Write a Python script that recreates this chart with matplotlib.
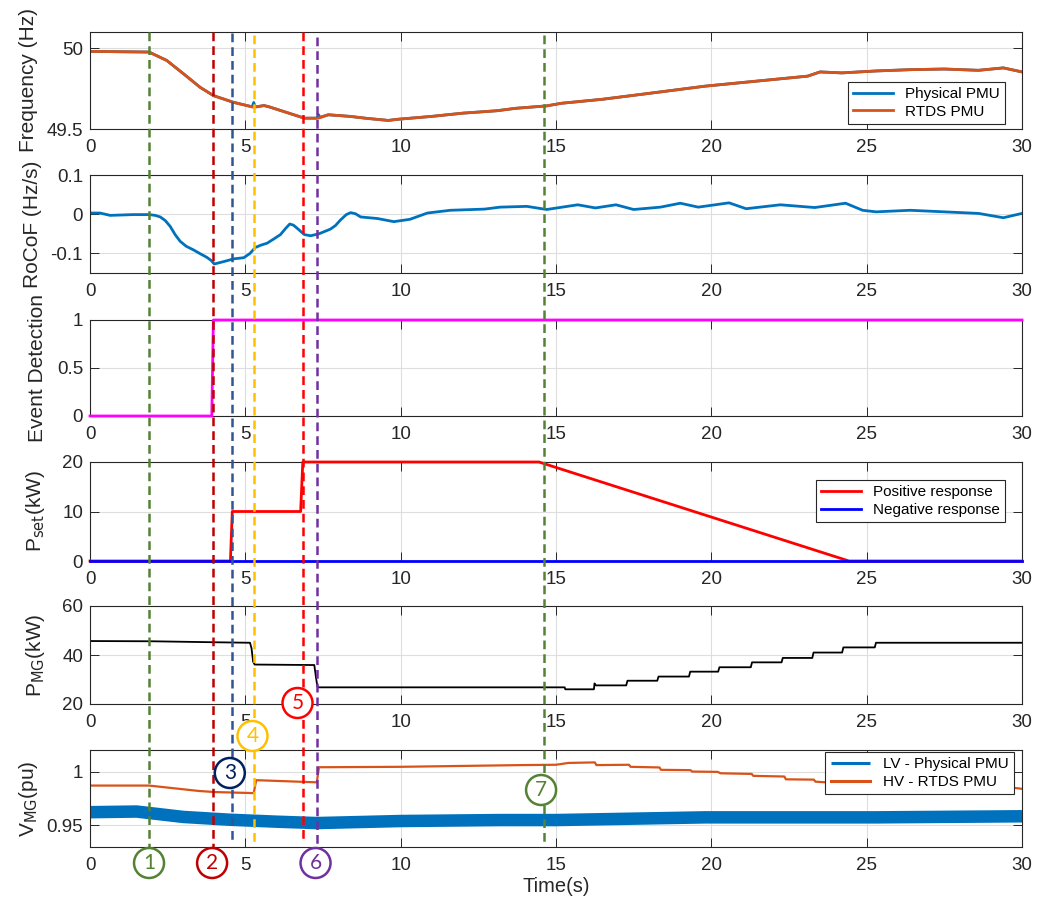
import matplotlib.pyplot as plt
from matplotlib.lines import Line2D
from matplotlib.transforms import blended_transform_factory

plt.rcParams['font.family'] = ['Liberation Sans', 'DejaVu Sans']

# ---- frequency (Hz) ----
t_freq = [0, 1.9, 2.47, 3.0, 3.55, 3.98, 4.62, 5.27, 5.6, 5.75, 6.24, 6.9, 7.35,
          7.67, 8.37, 8.9, 9.6, 9.9, 11.0, 12.0, 13.1, 13.7, 14.7, 15.17, 16.5,
          18.14, 19.8, 21.45, 23.1, 23.5, 24.2, 25.3, 26.4, 27.5, 28.6, 29.4, 30]
f_rtds = [49.980, 49.976, 49.924, 49.843, 49.757, 49.706, 49.665, 49.635, 49.645,
          49.638, 49.608, 49.567, 49.567, 49.588, 49.578, 49.566, 49.553, 49.560,
          49.578, 49.598, 49.613, 49.628, 49.643, 49.659, 49.684, 49.724, 49.765,
          49.796, 49.827, 49.853, 49.847, 49.859, 49.867, 49.871, 49.863, 49.878,
          49.853]
# physical PMU follows the RTDS trace except for two short spikes
t_phys = [0, 1.9, 2.47, 3.0, 3.55, 3.98, 4.62, 5.22, 5.27, 5.32, 5.6, 5.75, 6.24,
          6.9, 7.3, 7.35, 7.4, 7.67, 8.37, 8.9, 9.6, 9.9, 11.0, 12.0, 13.1, 13.7,
          14.7, 15.17, 16.5, 18.14, 19.8, 21.45, 23.1, 23.5, 24.2, 25.3, 26.4,
          27.5, 28.6, 29.4, 30]
f_phys = [49.980, 49.976, 49.924, 49.843, 49.757, 49.706, 49.665, 49.637, 49.664,
          49.636, 49.645, 49.638, 49.608, 49.567, 49.567, 49.590, 49.572, 49.588,
          49.578, 49.566, 49.553, 49.560, 49.578, 49.598, 49.613, 49.628, 49.643,
          49.659, 49.684, 49.724, 49.765, 49.796, 49.827, 49.853, 49.847, 49.859,
          49.867, 49.871, 49.863, 49.878, 49.853]

# ---- RoCoF (Hz/s) ----
t_rocof = [0, 0.32, 0.65, 1.4, 1.9, 2.1, 2.26, 2.42, 2.58, 2.74, 2.9, 3.1, 3.33,
           3.55, 3.76, 3.9, 4.0, 4.3, 4.62, 4.95, 5.15, 5.32, 5.5, 5.7, 5.9, 6.13,
           6.3, 6.43, 6.55, 6.67, 6.9, 7.1, 7.37, 7.74, 7.9, 8.06, 8.25, 8.39,
           8.55, 8.71, 9.25, 9.78, 10.3, 10.86, 11.6, 12.7, 13.2, 14.06, 14.7, 15.7,
           16.27, 16.93, 17.5, 18.36, 19.0, 19.58, 20.57, 21.12, 22.22, 23.33,
           24.32, 24.87, 25.3, 26.4, 27.5, 28.6, 29.4, 30]
rocof = [0.003, 0.003, -0.003, -0.001, -0.001, -0.003, -0.007, -0.016, -0.031,
         -0.052, -0.069, -0.082, -0.091, -0.101, -0.110, -0.118, -0.127, -0.121,
         -0.114, -0.111, -0.100, -0.085, -0.079, -0.074, -0.064, -0.052, -0.036,
         -0.025, -0.028, -0.036, -0.052, -0.055, -0.050, -0.038, -0.029, -0.015,
         -0.001, 0.004, 0.001, -0.007, -0.011, -0.019, -0.013, 0.003, 0.010, 0.013,
         0.018, 0.020, 0.012, 0.024, 0.016, 0.024, 0.012, 0.018, 0.028, 0.018,
         0.029, 0.014, 0.024, 0.017, 0.028, 0.010, 0.006, 0.010, 0.006, 0.002,
         -0.009, 0.002]

# ---- event detection flag ----
t_evt = [0, 3.92, 3.97, 30]
evt = [0, 0, 1, 1]

# ---- power set-points (kW) ----
t_pos = [0, 4.52, 4.58, 6.78, 6.85, 14.45, 24.43, 30]
p_pos = [0, 0, 10, 10, 20, 20, 0, 0]
t_neg = [0, 30]
p_neg = [0, 0]

# ---- microgrid power (kW) ----
t_pmg = [0, 2.0, 4.0, 5.15, 5.2, 5.25, 5.3, 7.22, 7.27, 7.32, 7.36, 15.28, 15.3,
         16.22, 16.24, 16.28, 17.26, 17.3, 18.26, 18.3, 19.28, 19.32, 20.22, 20.26,
         21.27, 21.31, 22.26, 22.3, 23.25, 23.29, 24.21, 24.25, 25.26, 25.3, 30]
p_mg = [45.7, 45.6, 45.2, 45.0, 42.7, 37.3, 36.1, 35.9, 31.2, 27.1, 26.8, 26.8, 26.0,
        26.0, 28.4, 27.6, 27.6, 29.5, 29.5, 31.2, 31.2, 33.2, 33.2, 35.0,
        35.0, 37.0, 37.0, 38.8, 38.8, 41.0, 41.0, 43.1, 43.1, 45.0, 45.0]

# ---- microgrid voltage (pu) ----
t_hv = [0, 1.9, 3.5, 4.0, 5.27, 5.35, 7.3, 7.37, 10.0, 13.9, 15.0, 15.4, 16.25,
        16.3, 17.35, 17.4, 18.33, 18.38, 19.33, 19.38, 20.2, 20.3, 21.3, 21.35,
        22.35, 22.4, 23.3, 23.35, 24.3, 26.0, 28.0, 29.7, 30]
v_hv = [0.987, 0.987, 0.982, 0.981, 0.980, 0.992, 0.990, 1.004, 1.0044, 1.006,
        1.0063, 1.008, 1.0085, 1.006, 1.0063, 1.0044, 1.0038, 1.0016, 1.0013,
        1.000, 0.9997, 0.9984, 0.9978, 0.996, 0.9954, 0.9928, 0.9925, 0.9906,
        0.989, 0.988, 0.986, 0.985, 0.984]
t_lv = [0, 1.5, 3.0, 4.5, 6.0, 7.3, 10.0, 13.2, 15.0, 19.8, 25.3, 30]
v_lv = [0.9623, 0.9629, 0.9579, 0.9553, 0.9535, 0.9522, 0.9541, 0.955, 0.955,
        0.9575, 0.9575, 0.9585]

xticks = [0, 5, 10, 15, 20, 25, 30]

# sequence markers: time, colour, line top/bottom (px), circle time and height (px)
step_t = [1.9, 3.96, 4.58, 5.29, 6.87, 7.32, 14.6]
step_col = ['#548235', '#c00000', '#2f5597', '#ffc000', '#ff0000', '#7030a0', '#548235']
circ_col = ['#548235', '#c00000', '#002060', '#ffc000', '#ff0000', '#7030a0', '#548235']
line_top = [32, 32, 33, 35, 32, 37, 35]
line_bot = [849, 849, 840, 843, 843, 849, 845]
circ_t = [1.9, 3.93, 4.5, 5.23, 6.68, 7.26, 14.52]
circ_y = [863, 863, 773, 736, 703, 863, 790]

W, H = 1038, 910
BLUE = '#0072bd'
ORANGE = '#d95319'
DARK = '#262626'

fig = plt.figure(figsize=(W / 100, H / 100), dpi=100)

# panel rectangles given as top / bottom pixel rows
rows = [(32, 129), (175, 273), (320, 416), (462, 561), (606, 704), (750, 847)]
x0, x1 = 90, 1022
axes = []
for top, bot in rows:
    ax = fig.add_axes([x0 / W, 1 - bot / H, (x1 - x0) / W, (bot - top) / H])
    axes.append(ax)

ylims = [(49.5, 50.1), (-0.15, 0.1), (0, 1), (0, 20), (20, 60), (0.93, 1.02)]
yticks = [[49.5, 50], [-0.1, 0, 0.1], [0, 0.5, 1], [0, 10, 20], [20, 40, 60], [0.95, 1]]
ytick_labels = [['49.5', '50'], ['-0.1', '0', '0.1'], ['0', '0.5', '1'],
                ['0', '10', '20'], ['20', '40', '60'], ['0.95', '1']]
ylabels = ['Frequency (Hz)', 'RoCoF (Hz/s)', 'Event Detection',
           r'P$_{\mathrm{set}}$(kW)', r'P$_{\mathrm{MG}}$(kW)', r'V$_{\mathrm{MG}}$(pu)']
ylabel_x = [-0.056, -0.051, -0.046, -0.046, -0.046, -0.054]

for ax, yl, yt, ytl, lab, lx in zip(axes, ylims, yticks, ytick_labels, ylabels, ylabel_x):
    ax.set_xlim(0, 30)
    ax.set_ylim(*yl)
    ax.set_xticks(xticks)
    ax.set_xticklabels([str(v) for v in xticks])
    ax.set_yticks(yt)
    ax.set_yticklabels(ytl)
    ax.grid(True, color='#dedede', lw=0.8)
    ax.set_axisbelow(True)
    ax.tick_params(direction='in', length=6.5, width=0.7, top=True, right=True,
                   labelsize=13.5, labelcolor=DARK, color=DARK)
    ax.tick_params(axis='x', pad=7)
    ax.tick_params(axis='y', pad=5)
    for s in ax.spines.values():
        s.set_color(DARK)
        s.set_linewidth(0.8)
    ax.set_ylabel(lab, fontsize=15, color=DARK)
    ax.yaxis.set_label_coords(lx, 0.5)

leg_kw = dict(fancybox=False, framealpha=1, edgecolor=DARK, fontsize=11,
              handlelength=2.6, borderpad=0.35, labelspacing=0.25, borderaxespad=0)

ax = axes[0]
ax.plot(t_phys, f_phys, color=BLUE, lw=2, label='Physical PMU')
ax.plot(t_freq, f_rtds, color=ORANGE, lw=2, label='RTDS PMU')
leg = ax.legend(loc='lower right', bbox_to_anchor=(0.982, 0.05), **leg_kw)
leg.get_frame().set_linewidth(0.8)

ax = axes[1]
ax.plot(t_rocof, rocof, color=BLUE, lw=2)

ax = axes[2]
ax.plot(t_evt, evt, color='#ff00ff', lw=2, clip_on=False, zorder=3)

ax = axes[3]
ax.plot(t_pos, p_pos, color='#ff0000', lw=2, clip_on=False, zorder=3,
        label='Positive response')
ax.plot(t_neg, p_neg, color='#0000ff', lw=2, clip_on=False, zorder=3,
        label='Negative response')
leg = ax.legend(loc='upper right', bbox_to_anchor=(0.982, 0.82), **leg_kw)
leg.get_frame().set_linewidth(0.8)

ax = axes[4]
ax.plot(t_pmg, p_mg, color='black', lw=1.3)

ax = axes[5]
ax.plot(t_lv, v_lv, color=BLUE, lw=9, solid_capstyle='butt', label='LV - Physical PMU')
ax.plot(t_hv, v_hv, color=ORANGE, lw=1.6, label='HV - RTDS PMU')
leg = ax.legend(loc='upper right', bbox_to_anchor=(0.991, 0.98), **leg_kw)
leg.get_frame().set_linewidth(0.8)
for h in leg.get_lines():
    h.set_linewidth(2.2)
ax.set_xlabel('Time(s)', fontsize=14.5, color=DARK, labelpad=2)

# dashed markers spanning all panels, with numbered circles
tr = blended_transform_factory(axes[-1].transData, fig.transFigure)
for i in range(len(step_t)):
    fig.add_artist(Line2D([step_t[i], step_t[i]],
                          [1 - line_top[i] / H, 1 - line_bot[i] / H],
                          transform=tr, color=step_col[i], lw=1.8,
                          linestyle=(0, (3.5, 2)), zorder=5))
    fig.text(circ_t[i], 1 - circ_y[i] / H, str(i + 1), transform=tr,
             ha='center', va='center', fontsize=15, color=circ_col[i],
             family=['Lato', 'DejaVu Sans'], zorder=6,
             bbox=dict(boxstyle='circle,pad=0.24', fc='white', ec=circ_col[i], lw=1.8))

fig.savefig('out.png', dpi=100)
